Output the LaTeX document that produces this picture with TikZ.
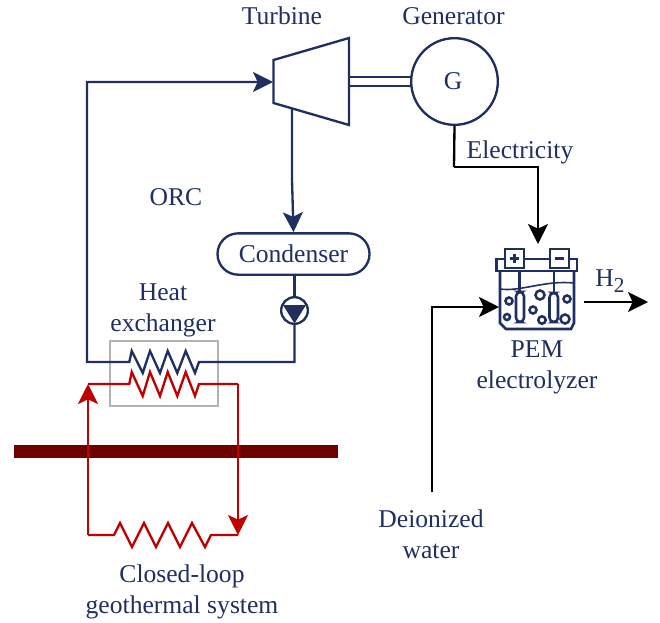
\documentclass[tikz,border=0pt]{standalone}
\usepackage{fontspec}
\setmainfont{Liberation Serif}
\usetikzlibrary{arrows.meta}
\definecolor{navy}{HTML}{1F2F60}
\definecolor{redline}{HTML}{C00000}
\definecolor{darkbar}{HTML}{6E0000}
\definecolor{boxgrey}{HTML}{B3B3B3}
\tikzset{
  x=0.75pt,y=-0.75pt,
  lbl/.style={text=navy,font=\fontsize{19.2}{23.4}\selectfont,align=center,inner sep=0pt},
  navyline/.style={draw=navy,line width=1.75pt,line join=miter},
  redl/.style={draw=redline,line width=1.75pt,line join=miter},
  blackl/.style={draw=black,line width=1.75pt,line join=miter},
  tip/.style={-{Stealth[length=15pt,width=15pt,inset=3.5pt]}},
  icon/.style={draw=navy,line width=1.9pt},
}
\begin{document}
\begin{tikzpicture}
\useasboundingbox (0,0) rectangle (660,622);
% anchor points
\coordinate (orcL) at (87,362);
\coordinate (orcTop) at (87,82);
\coordinate (turbIn) at (273,82);
\coordinate (turbOut) at (292,109);
\coordinate (turbBend) at (292,180);
\coordinate (redL) at (88,384);
\coordinate (redBL) at (88,535);
\coordinate (redR) at (238,384);
\coordinate (redBR) at (238,535);
\coordinate (elecMid) at (454,167);
\coordinate (elecTurn) at (538,167);
\coordinate (elecIn) at (538,244);
\coordinate (waterS) at (432,492);
\coordinate (waterC) at (432,307);
\coordinate (waterE) at (499,307);
\coordinate (h2S) at (584,302);
\coordinate (h2E) at (648,302);
% ground bar
\fill[darkbar] (14,445) rectangle (338,458);
% heat exchanger box
\draw[boxgrey,line width=1.5pt] (110,341) rectangle (218,406);
% turbine, generator
\draw[navyline,fill=white] (273.5,60) -- (349,38) -- (349,125) -- (273.5,103) -- cycle;
\draw[navyline] (349,77) -- (411,77);
\draw[navyline] (349,86) -- (411,86);
\node[draw=navy,line width=1.75pt,circle,minimum size=65pt,inner sep=0pt,fill=white] (gen) at (454.5,81.5) {};
\node[lbl] (gl) at (453,81) {G};
% condenser and pump
\node[draw=navy,line width=1.75pt,rounded corners=15.5pt,minimum width=114pt,minimum height=31pt,inner sep=0pt,fill=white,lbl] (cond) at (293.5,254) {Condenser};
\node[draw=navy,line width=1.75pt,circle,minimum size=20pt,inner sep=0pt] (pump) at (294.5,310.5) {};
\fill[navy] (283,305) -- (306,305) -- (294.5,323.5) -- cycle;
% ORC loop
\draw[navyline,tip] (pump.south) |- (199,362) -- (195,373) -- (185.7,351) -- (177.3,373) -- (167.7,351) -- (160,373) -- (150,351) -- (142.7,373) -- (131.7,351) -- (129.3,362) -- (orcL) -- (orcTop) -- (turbIn);
\draw[navyline,tip] (turbOut) -- (turbBend) -- (cond.north);
\draw[navyline] (cond.south -| pump.north) -- (pump.north);
% red loop
\draw[redl] (redBL) -- (114,535) -- (120,523) -- (132,547) -- (144,523) -- (156,547) -- (168,523) -- (180,547) -- (192,523) -- (205,547) -- (211,535) -- (redBR);
\draw[redl,tip] (redR) -- (redBR);
\draw[redl] (redR) -- (199,384) -- (195,396) -- (185.7,372) -- (177.3,396) -- (167.7,372) -- (160,396) -- (150,372) -- (142.7,396) -- (131.7,372) -- (129.3,384) -- (redL);
\draw[redl,tip] (redBL) -- (redL);
% black arrows
\draw[blackl] (gen.south) -- (elecMid);
\draw[blackl,tip] (elecMid) -- (elecTurn) -- (elecIn);
\draw[blackl,tip] (waterS) -- (waterC) -- (waterE);
\draw[blackl,tip] (h2S) -- (h2E);
% electrolyzer icon
\draw[icon] (496.7,259) rectangle (577,271);
\draw[icon,fill=white] (505,249) rectangle (524,268);
\draw[icon,fill=white] (550,249) rectangle (569,268);
\draw[icon] (510,258.5) -- (519,258.5) (514.5,254) -- (514.5,263);
\draw[icon] (555,258.5) -- (564,258.5);
\draw[icon] (500,271) -- (500,323) -- (506,329) -- (571,329) -- (574,323) -- (574,271);
\draw[icon,line width=1.2pt] (500,289) .. controls (520,292) and (545,280) .. (574,283);
\draw[icon] (519.5,271) -- (519.5,292);
\draw[icon] (554,271) -- (554,293);
\draw[icon,rounded corners=3.2pt,fill=white] (516,292) rectangle (524,322);
\draw[icon,rounded corners=3.2pt,fill=white] (549.5,293) rectangle (558,322);
\foreach \px/\py/\pr in {509/301/3.5,507/317/3,540/295/4.5,533/310/3.5,542/320/3.7,567/299/3.5,565/319/4.5}
  \draw[icon] (\px,\py) circle[radius=\pr];
% labels
\node[lbl] (t1) at (282,16) {Turbine};
\node[lbl] (t2) at (453.5,16) {Generator};
\node[lbl] (t3) at (176,197) {ORC};
\node[lbl] (t4) at (163,310) {Heat\\exchanger};
\node[lbl] (t5) at (520,152) {Electricity};
\node[lbl] (t6) at (537,367) {PEM\\electrolyzer};
\node[lbl] (t7) at (431,534) {Deionized\\water};
\node[lbl] (t8) at (182,592) {Closed-loop\\geothermal system};
\node[lbl] (t9) at (610,281) {H\raisebox{-4pt}{\fontsize{16}{16}\selectfont 2}};
\end{tikzpicture}
\end{document}
